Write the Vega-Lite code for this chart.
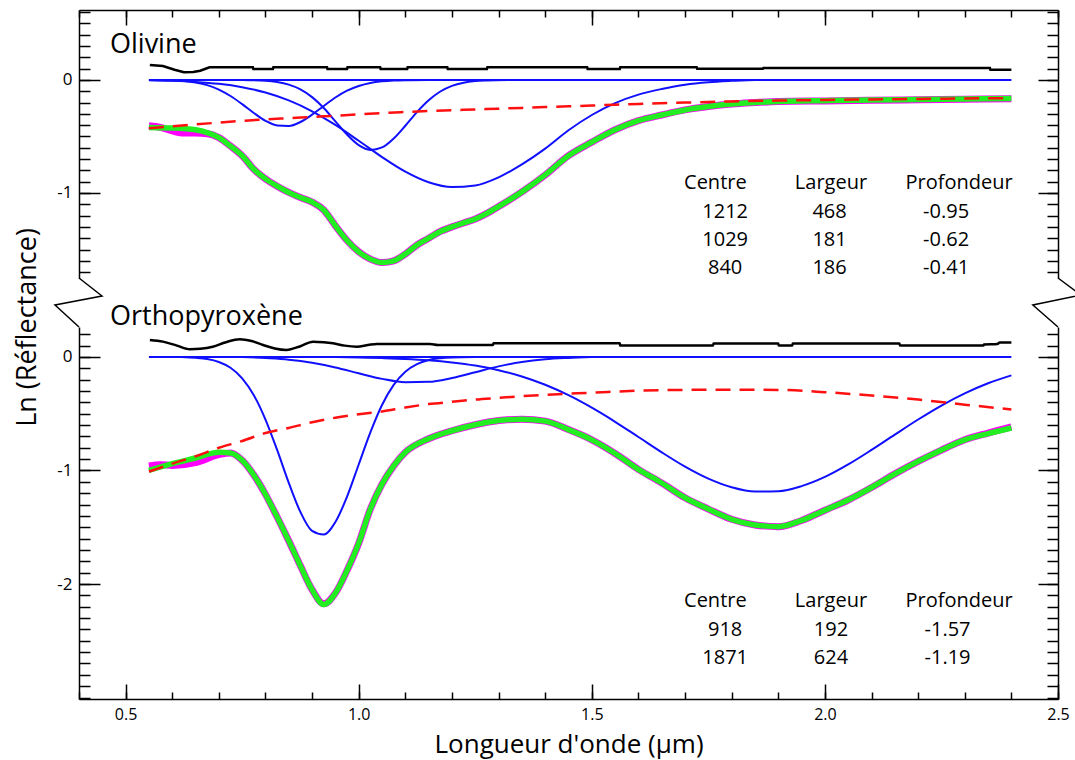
{
  "$schema": "https://vega.github.io/schema/vega-lite/v6.json",
  "background": "white",
  "padding": {"left": 13, "top": 9, "right": 0, "bottom": 10},
  "bounds": "flush",
  "spacing": 49,
  "config": {
    "view": {"stroke": null},
    "font": "Open Sans",
    "axis": {"grid": false, "domainColor": "black", "tickColor": "black", "labelColor": "black", "titleColor": "black", "domainWidth": 1.5, "tickWidth": 1.5, "labelFont": "Open Sans", "titleFont": "Open Sans", "titleFontWeight": "normal", "labelOverlap": false, "labelFlush": false, "labelBound": false}
  },
  "datasets": {
    "ol": [
      {"x":0.552,"y":0.133,"s":"res"},{"x":0.58,"y":0.124,"s":"res"},{"x":0.605,"y":0.09,"s":"res"},{"x":0.625,"y":0.068,"s":"res"},{"x":0.645,"y":0.07,"s":"res"},{"x":0.66,"y":0.082,"s":"res"},{"x":0.68,"y":0.112,"s":"res"},{"x":0.773,"y":0.112,"s":"res"},{"x":0.774,"y":0.098,"s":"res"},{"x":0.816,"y":0.098,"s":"res"},{"x":0.817,"y":0.112,"s":"res"},{"x":0.932,"y":0.112,"s":"res"},{"x":0.933,"y":0.098,"s":"res"},{"x":0.975,"y":0.098,"s":"res"},{"x":0.976,"y":0.112,"s":"res"},{"x":1.046,"y":0.112,"s":"res"},{"x":1.047,"y":0.098,"s":"res"},{"x":1.104,"y":0.098,"s":"res"},{"x":1.105,"y":0.112,"s":"res"},{"x":1.19,"y":0.112,"s":"res"},{"x":1.191,"y":0.098,"s":"res"},{"x":1.275,"y":0.098,"s":"res"},{"x":1.276,"y":0.112,"s":"res"},{"x":1.49,"y":0.112,"s":"res"},{"x":1.491,"y":0.098,"s":"res"},{"x":1.56,"y":0.098,"s":"res"},{"x":1.561,"y":0.112,"s":"res"},{"x":1.725,"y":0.112,"s":"res"},{"x":1.726,"y":0.1,"s":"res"},{"x":1.867,"y":0.1,"s":"res"},{"x":1.868,"y":0.105,"s":"res"},{"x":2.354,"y":0.105,"s":"res"},{"x":2.355,"y":0.09,"s":"res"},{"x":2.4,"y":0.09,"s":"res"},
      {"x":0.55,"y":0,"s":"base"},{"x":2.4,"y":0,"s":"base"},
      {"x":0.55,"y":0,"s":"g1"},{"x":0.6,"y":-0.004,"s":"g1"},{"x":0.625,"y":-0.01,"s":"g1"},{"x":0.65,"y":-0.023,"s":"g1"},{"x":0.675,"y":-0.046,"s":"g1"},{"x":0.7,"y":-0.085,"s":"g1"},{"x":0.725,"y":-0.142,"s":"g1"},{"x":0.75,"y":-0.214,"s":"g1"},{"x":0.775,"y":-0.292,"s":"g1"},{"x":0.8,"y":-0.361,"s":"g1"},{"x":0.825,"y":-0.403,"s":"g1"},{"x":0.85,"y":-0.407,"s":"g1"},{"x":0.875,"y":-0.372,"s":"g1"},{"x":0.9,"y":-0.307,"s":"g1"},{"x":0.925,"y":-0.23,"s":"g1"},{"x":0.95,"y":-0.155,"s":"g1"},{"x":0.975,"y":-0.095,"s":"g1"},{"x":1.0,"y":-0.053,"s":"g1"},{"x":1.025,"y":-0.026,"s":"g1"},{"x":1.05,"y":-0.012,"s":"g1"},{"x":1.075,"y":-0.005,"s":"g1"},{"x":1.1,"y":-0.002,"s":"g1"},{"x":1.15,"y":0,"s":"g1"},
      {"x":0.75,"y":0,"s":"g2"},{"x":0.8,"y":-0.007,"s":"g2"},{"x":0.825,"y":-0.018,"s":"g2"},{"x":0.85,"y":-0.041,"s":"g2"},{"x":0.875,"y":-0.083,"s":"g2"},{"x":0.9,"y":-0.152,"s":"g2"},{"x":0.925,"y":-0.248,"s":"g2"},{"x":0.95,"y":-0.366,"s":"g2"},{"x":0.975,"y":-0.484,"s":"g2"},{"x":1.0,"y":-0.577,"s":"g2"},{"x":1.025,"y":-0.619,"s":"g2"},{"x":1.05,"y":-0.597,"s":"g2"},{"x":1.075,"y":-0.518,"s":"g2"},{"x":1.1,"y":-0.405,"s":"g2"},{"x":1.125,"y":-0.284,"s":"g2"},{"x":1.15,"y":-0.18,"s":"g2"},{"x":1.175,"y":-0.102,"s":"g2"},{"x":1.2,"y":-0.052,"s":"g2"},{"x":1.225,"y":-0.024,"s":"g2"},{"x":1.25,"y":-0.01,"s":"g2"},{"x":1.275,"y":-0.004,"s":"g2"},{"x":1.32,"y":0,"s":"g2"},
      {"x":0.55,"y":-0.003,"s":"g3"},{"x":0.6,"y":-0.008,"s":"g3"},{"x":0.65,"y":-0.017,"s":"g3"},{"x":0.7,"y":-0.034,"s":"g3"},{"x":0.75,"y":-0.064,"s":"g3"},{"x":0.8,"y":-0.111,"s":"g3"},{"x":0.85,"y":-0.181,"s":"g3"},{"x":0.9,"y":-0.277,"s":"g3"},{"x":0.95,"y":-0.398,"s":"g3"},{"x":1.0,"y":-0.538,"s":"g3"},{"x":1.05,"y":-0.682,"s":"g3"},{"x":1.1,"y":-0.811,"s":"g3"},{"x":1.15,"y":-0.905,"s":"g3"},{"x":1.2,"y":-0.948,"s":"g3"},{"x":1.25,"y":-0.933,"s":"g3"},{"x":1.3,"y":-0.861,"s":"g3"},{"x":1.35,"y":-0.747,"s":"g3"},{"x":1.4,"y":-0.607,"s":"g3"},{"x":1.45,"y":-0.445,"s":"g3"},{"x":1.5,"y":-0.31,"s":"g3"},{"x":1.55,"y":-0.205,"s":"g3"},{"x":1.6,"y":-0.13,"s":"g3"},{"x":1.65,"y":-0.08,"s":"g3"},{"x":1.7,"y":-0.042,"s":"g3"},{"x":1.75,"y":-0.02,"s":"g3"},{"x":1.8,"y":-0.008,"s":"g3"},{"x":1.85,"y":0,"s":"g3"},
      {"x":0.55,"y":-0.428,"s":"cont"},{"x":0.6,"y":-0.41,"s":"cont"},{"x":0.65,"y":-0.393,"s":"cont"},{"x":0.7,"y":-0.377,"s":"cont"},{"x":0.75,"y":-0.362,"s":"cont"},{"x":0.8,"y":-0.349,"s":"cont"},{"x":0.85,"y":-0.338,"s":"cont"},{"x":0.9,"y":-0.327,"s":"cont"},{"x":0.95,"y":-0.316,"s":"cont"},{"x":1.0,"y":-0.305,"s":"cont"},{"x":1.05,"y":-0.293,"s":"cont"},{"x":1.1,"y":-0.283,"s":"cont"},{"x":1.15,"y":-0.274,"s":"cont"},{"x":1.2,"y":-0.267,"s":"cont"},{"x":1.25,"y":-0.261,"s":"cont"},{"x":1.3,"y":-0.254,"s":"cont"},{"x":1.35,"y":-0.247,"s":"cont"},{"x":1.4,"y":-0.24,"s":"cont"},{"x":1.45,"y":-0.233,"s":"cont"},{"x":1.5,"y":-0.226,"s":"cont"},{"x":1.55,"y":-0.219,"s":"cont"},{"x":1.6,"y":-0.212,"s":"cont"},{"x":1.7,"y":-0.2,"s":"cont"},{"x":1.8,"y":-0.19,"s":"cont"},{"x":1.9,"y":-0.182,"s":"cont"},{"x":2.0,"y":-0.177,"s":"cont"},{"x":2.1,"y":-0.172,"s":"cont"},{"x":2.2,"y":-0.168,"s":"cont"},{"x":2.3,"y":-0.164,"s":"cont"},{"x":2.4,"y":-0.16,"s":"cont"},
      {"x":0.55,"y":-0.42,"s":"fit"},{"x":0.6,"y":-0.425,"s":"fit"},{"x":0.625,"y":-0.43,"s":"fit"},{"x":0.65,"y":-0.44,"s":"fit"},{"x":0.675,"y":-0.465,"s":"fit"},{"x":0.7,"y":-0.51,"s":"fit"},{"x":0.725,"y":-0.585,"s":"fit"},{"x":0.75,"y":-0.67,"s":"fit"},{"x":0.775,"y":-0.79,"s":"fit"},{"x":0.8,"y":-0.875,"s":"fit"},{"x":0.825,"y":-0.94,"s":"fit"},{"x":0.85,"y":-0.995,"s":"fit"},{"x":0.875,"y":-1.04,"s":"fit"},{"x":0.9,"y":-1.08,"s":"fit"},{"x":0.925,"y":-1.15,"s":"fit"},{"x":0.95,"y":-1.29,"s":"fit"},{"x":0.975,"y":-1.42,"s":"fit"},{"x":1.0,"y":-1.52,"s":"fit"},{"x":1.025,"y":-1.585,"s":"fit"},{"x":1.05,"y":-1.615,"s":"fit"},{"x":1.075,"y":-1.6,"s":"fit"},{"x":1.1,"y":-1.54,"s":"fit"},{"x":1.125,"y":-1.46,"s":"fit"},{"x":1.15,"y":-1.4,"s":"fit"},{"x":1.175,"y":-1.34,"s":"fit"},{"x":1.2,"y":-1.3,"s":"fit"},{"x":1.225,"y":-1.265,"s":"fit"},{"x":1.25,"y":-1.23,"s":"fit"},{"x":1.275,"y":-1.18,"s":"fit"},{"x":1.3,"y":-1.12,"s":"fit"},{"x":1.35,"y":-0.99,"s":"fit"},{"x":1.4,"y":-0.84,"s":"fit"},{"x":1.45,"y":-0.67,"s":"fit"},{"x":1.5,"y":-0.55,"s":"fit"},{"x":1.55,"y":-0.44,"s":"fit"},{"x":1.6,"y":-0.36,"s":"fit"},{"x":1.65,"y":-0.31,"s":"fit"},{"x":1.7,"y":-0.265,"s":"fit"},{"x":1.75,"y":-0.235,"s":"fit"},{"x":1.8,"y":-0.213,"s":"fit"},{"x":1.85,"y":-0.2,"s":"fit"},{"x":1.9,"y":-0.19,"s":"fit"},{"x":2.0,"y":-0.183,"s":"fit"},{"x":2.1,"y":-0.178,"s":"fit"},{"x":2.2,"y":-0.172,"s":"fit"},{"x":2.3,"y":-0.168,"s":"fit"},{"x":2.4,"y":-0.163,"s":"fit"},
      {"x":0.55,"y":-0.405,"s":"meas"},{"x":0.575,"y":-0.42,"s":"meas"},{"x":0.6,"y":-0.45,"s":"meas"},{"x":0.625,"y":-0.47,"s":"meas"},{"x":0.65,"y":-0.47,"s":"meas"},{"x":0.675,"y":-0.475,"s":"meas"},{"x":0.7,"y":-0.51,"s":"meas"},{"x":0.725,"y":-0.585,"s":"meas"},{"x":0.75,"y":-0.67,"s":"meas"},{"x":0.775,"y":-0.79,"s":"meas"},{"x":0.8,"y":-0.875,"s":"meas"},{"x":0.825,"y":-0.94,"s":"meas"},{"x":0.85,"y":-0.995,"s":"meas"},{"x":0.875,"y":-1.04,"s":"meas"},{"x":0.9,"y":-1.08,"s":"meas"},{"x":0.925,"y":-1.15,"s":"meas"},{"x":0.95,"y":-1.29,"s":"meas"},{"x":0.975,"y":-1.42,"s":"meas"},{"x":1.0,"y":-1.52,"s":"meas"},{"x":1.025,"y":-1.585,"s":"meas"},{"x":1.05,"y":-1.615,"s":"meas"},{"x":1.075,"y":-1.6,"s":"meas"},{"x":1.1,"y":-1.54,"s":"meas"},{"x":1.125,"y":-1.46,"s":"meas"},{"x":1.15,"y":-1.4,"s":"meas"},{"x":1.175,"y":-1.34,"s":"meas"},{"x":1.2,"y":-1.3,"s":"meas"},{"x":1.225,"y":-1.265,"s":"meas"},{"x":1.25,"y":-1.23,"s":"meas"},{"x":1.275,"y":-1.18,"s":"meas"},{"x":1.3,"y":-1.12,"s":"meas"},{"x":1.35,"y":-0.99,"s":"meas"},{"x":1.4,"y":-0.84,"s":"meas"},{"x":1.45,"y":-0.67,"s":"meas"},{"x":1.5,"y":-0.55,"s":"meas"},{"x":1.55,"y":-0.44,"s":"meas"},{"x":1.6,"y":-0.36,"s":"meas"},{"x":1.65,"y":-0.31,"s":"meas"},{"x":1.7,"y":-0.265,"s":"meas"},{"x":1.75,"y":-0.235,"s":"meas"},{"x":1.8,"y":-0.213,"s":"meas"},{"x":1.85,"y":-0.2,"s":"meas"},{"x":1.9,"y":-0.19,"s":"meas"},{"x":2.0,"y":-0.185,"s":"meas"},{"x":2.1,"y":-0.18,"s":"meas"},{"x":2.2,"y":-0.175,"s":"meas"},{"x":2.3,"y":-0.171,"s":"meas"},{"x":2.4,"y":-0.166,"s":"meas"}
    ],
    "opx": [
      {"x":0.552,"y":0.15,"s":"res"},{"x":0.58,"y":0.135,"s":"res"},{"x":0.61,"y":0.1,"s":"res"},{"x":0.638,"y":0.068,"s":"res"},{"x":0.66,"y":0.072,"s":"res"},{"x":0.687,"y":0.09,"s":"res"},{"x":0.715,"y":0.13,"s":"res"},{"x":0.745,"y":0.156,"s":"res"},{"x":0.77,"y":0.14,"s":"res"},{"x":0.795,"y":0.106,"s":"res"},{"x":0.82,"y":0.075,"s":"res"},{"x":0.845,"y":0.062,"s":"res"},{"x":0.875,"y":0.095,"s":"res"},{"x":0.902,"y":0.135,"s":"res"},{"x":0.925,"y":0.13,"s":"res"},{"x":0.945,"y":0.12,"s":"res"},{"x":0.97,"y":0.1,"s":"res"},{"x":0.996,"y":0.091,"s":"res"},{"x":1.02,"y":0.105,"s":"res"},{"x":1.039,"y":0.115,"s":"res"},{"x":1.153,"y":0.115,"s":"res"},{"x":1.17,"y":0.106,"s":"res"},{"x":1.288,"y":0.106,"s":"res"},{"x":1.289,"y":0.12,"s":"res"},{"x":1.56,"y":0.12,"s":"res"},{"x":1.561,"y":0.1,"s":"res"},{"x":1.76,"y":0.1,"s":"res"},{"x":1.761,"y":0.118,"s":"res"},{"x":1.9,"y":0.118,"s":"res"},{"x":1.901,"y":0.1,"s":"res"},{"x":1.93,"y":0.1,"s":"res"},{"x":1.931,"y":0.118,"s":"res"},{"x":2.16,"y":0.118,"s":"res"},{"x":2.161,"y":0.1,"s":"res"},{"x":2.34,"y":0.1,"s":"res"},{"x":2.341,"y":0.11,"s":"res"},{"x":2.37,"y":0.115,"s":"res"},{"x":2.375,"y":0.127,"s":"res"},{"x":2.4,"y":0.127,"s":"res"},
      {"x":0.55,"y":0,"s":"base"},{"x":2.4,"y":0,"s":"base"},
      {"x":0.62,"y":0,"s":"g4"},{"x":0.65,"y":-0.007,"s":"g4"},{"x":0.675,"y":-0.018,"s":"g4"},{"x":0.7,"y":-0.044,"s":"g4"},{"x":0.725,"y":-0.095,"s":"g4"},{"x":0.75,"y":-0.188,"s":"g4"},{"x":0.775,"y":-0.337,"s":"g4"},{"x":0.8,"y":-0.551,"s":"g4"},{"x":0.825,"y":-0.819,"s":"g4"},{"x":0.85,"y":-1.109,"s":"g4"},{"x":0.875,"y":-1.366,"s":"g4"},{"x":0.9,"y":-1.532,"s":"g4"},{"x":0.925,"y":-1.564,"s":"g4"},{"x":0.95,"y":-1.454,"s":"g4"},{"x":0.975,"y":-1.23,"s":"g4"},{"x":1.0,"y":-0.947,"s":"g4"},{"x":1.025,"y":-0.664,"s":"g4"},{"x":1.05,"y":-0.423,"s":"g4"},{"x":1.075,"y":-0.246,"s":"g4"},{"x":1.1,"y":-0.13,"s":"g4"},{"x":1.125,"y":-0.063,"s":"g4"},{"x":1.15,"y":-0.027,"s":"g4"},{"x":1.175,"y":-0.011,"s":"g4"},{"x":1.2,"y":-0.004,"s":"g4"},{"x":1.25,"y":0,"s":"g4"},
      {"x":0.95,"y":0,"s":"g5"},{"x":1.0,"y":-0.005,"s":"g5"},{"x":1.05,"y":-0.01,"s":"g5"},{"x":1.1,"y":-0.017,"s":"g5"},{"x":1.15,"y":-0.029,"s":"g5"},{"x":1.2,"y":-0.048,"s":"g5"},{"x":1.25,"y":-0.076,"s":"g5"},{"x":1.3,"y":-0.117,"s":"g5"},{"x":1.35,"y":-0.172,"s":"g5"},{"x":1.4,"y":-0.245,"s":"g5"},{"x":1.45,"y":-0.337,"s":"g5"},{"x":1.5,"y":-0.447,"s":"g5"},{"x":1.55,"y":-0.571,"s":"g5"},{"x":1.6,"y":-0.705,"s":"g5"},{"x":1.65,"y":-0.84,"s":"g5"},{"x":1.7,"y":-0.966,"s":"g5"},{"x":1.75,"y":-1.072,"s":"g5"},{"x":1.8,"y":-1.148,"s":"g5"},{"x":1.85,"y":-1.186,"s":"g5"},{"x":1.9,"y":-1.183,"s":"g5"},{"x":1.95,"y":-1.138,"s":"g5"},{"x":2.0,"y":-1.057,"s":"g5"},{"x":2.05,"y":-0.947,"s":"g5"},{"x":2.1,"y":-0.819,"s":"g5"},{"x":2.15,"y":-0.684,"s":"g5"},{"x":2.2,"y":-0.551,"s":"g5"},{"x":2.25,"y":-0.428,"s":"g5"},{"x":2.3,"y":-0.321,"s":"g5"},{"x":2.35,"y":-0.232,"s":"g5"},{"x":2.4,"y":-0.162,"s":"g5"},
      {"x":0.75,"y":0,"s":"g6"},{"x":0.8,"y":-0.01,"s":"g6"},{"x":0.85,"y":-0.024,"s":"g6"},{"x":0.9,"y":-0.051,"s":"g6"},{"x":0.95,"y":-0.092,"s":"g6"},{"x":1.0,"y":-0.144,"s":"g6"},{"x":1.05,"y":-0.193,"s":"g6"},{"x":1.1,"y":-0.222,"s":"g6"},{"x":1.15,"y":-0.219,"s":"g6"},{"x":1.2,"y":-0.185,"s":"g6"},{"x":1.25,"y":-0.134,"s":"g6"},{"x":1.3,"y":-0.083,"s":"g6"},{"x":1.35,"y":-0.044,"s":"g6"},{"x":1.4,"y":-0.02,"s":"g6"},{"x":1.45,"y":-0.008,"s":"g6"},{"x":1.5,"y":0,"s":"g6"},
      {"x":0.55,"y":-1.01,"s":"cont"},{"x":0.6,"y":-0.94,"s":"cont"},{"x":0.65,"y":-0.875,"s":"cont"},{"x":0.7,"y":-0.8,"s":"cont"},{"x":0.75,"y":-0.74,"s":"cont"},{"x":0.8,"y":-0.67,"s":"cont"},{"x":0.85,"y":-0.625,"s":"cont"},{"x":0.9,"y":-0.575,"s":"cont"},{"x":0.95,"y":-0.535,"s":"cont"},{"x":1.0,"y":-0.505,"s":"cont"},{"x":1.05,"y":-0.48,"s":"cont"},{"x":1.1,"y":-0.445,"s":"cont"},{"x":1.15,"y":-0.415,"s":"cont"},{"x":1.2,"y":-0.395,"s":"cont"},{"x":1.25,"y":-0.375,"s":"cont"},{"x":1.3,"y":-0.36,"s":"cont"},{"x":1.35,"y":-0.345,"s":"cont"},{"x":1.4,"y":-0.333,"s":"cont"},{"x":1.5,"y":-0.315,"s":"cont"},{"x":1.6,"y":-0.297,"s":"cont"},{"x":1.7,"y":-0.29,"s":"cont"},{"x":1.8,"y":-0.288,"s":"cont"},{"x":1.9,"y":-0.29,"s":"cont"},{"x":2.0,"y":-0.31,"s":"cont"},{"x":2.1,"y":-0.34,"s":"cont"},{"x":2.2,"y":-0.375,"s":"cont"},{"x":2.3,"y":-0.42,"s":"cont"},{"x":2.4,"y":-0.462,"s":"cont"},
      {"x":0.55,"y":-1.0,"s":"fit"},{"x":0.6,"y":-0.94,"s":"fit"},{"x":0.65,"y":-0.89,"s":"fit"},{"x":0.7,"y":-0.84,"s":"fit"},{"x":0.725,"y":-0.845,"s":"fit"},{"x":0.75,"y":-0.91,"s":"fit"},{"x":0.775,"y":-1.04,"s":"fit"},{"x":0.8,"y":-1.21,"s":"fit"},{"x":0.825,"y":-1.41,"s":"fit"},{"x":0.85,"y":-1.62,"s":"fit"},{"x":0.875,"y":-1.84,"s":"fit"},{"x":0.9,"y":-2.05,"s":"fit"},{"x":0.925,"y":-2.18,"s":"fit"},{"x":0.95,"y":-2.08,"s":"fit"},{"x":0.975,"y":-1.88,"s":"fit"},{"x":1.0,"y":-1.64,"s":"fit"},{"x":1.025,"y":-1.34,"s":"fit"},{"x":1.05,"y":-1.12,"s":"fit"},{"x":1.075,"y":-0.96,"s":"fit"},{"x":1.1,"y":-0.84,"s":"fit"},{"x":1.15,"y":-0.72,"s":"fit"},{"x":1.2,"y":-0.65,"s":"fit"},{"x":1.25,"y":-0.597,"s":"fit"},{"x":1.3,"y":-0.56,"s":"fit"},{"x":1.35,"y":-0.548,"s":"fit"},{"x":1.4,"y":-0.565,"s":"fit"},{"x":1.45,"y":-0.64,"s":"fit"},{"x":1.5,"y":-0.73,"s":"fit"},{"x":1.55,"y":-0.85,"s":"fit"},{"x":1.6,"y":-0.99,"s":"fit"},{"x":1.65,"y":-1.11,"s":"fit"},{"x":1.7,"y":-1.24,"s":"fit"},{"x":1.75,"y":-1.34,"s":"fit"},{"x":1.8,"y":-1.43,"s":"fit"},{"x":1.85,"y":-1.48,"s":"fit"},{"x":1.9,"y":-1.495,"s":"fit"},{"x":1.95,"y":-1.44,"s":"fit"},{"x":2.0,"y":-1.35,"s":"fit"},{"x":2.05,"y":-1.26,"s":"fit"},{"x":2.1,"y":-1.15,"s":"fit"},{"x":2.15,"y":-1.03,"s":"fit"},{"x":2.2,"y":-0.92,"s":"fit"},{"x":2.25,"y":-0.82,"s":"fit"},{"x":2.3,"y":-0.73,"s":"fit"},{"x":2.35,"y":-0.675,"s":"fit"},{"x":2.4,"y":-0.625,"s":"fit"},
      {"x":0.55,"y":-0.96,"s":"meas"},{"x":0.575,"y":-0.95,"s":"meas"},{"x":0.6,"y":-0.955,"s":"meas"},{"x":0.65,"y":-0.93,"s":"meas"},{"x":0.7,"y":-0.86,"s":"meas"},{"x":0.725,"y":-0.845,"s":"meas"},{"x":0.75,"y":-0.91,"s":"meas"},{"x":0.775,"y":-1.04,"s":"meas"},{"x":0.8,"y":-1.21,"s":"meas"},{"x":0.825,"y":-1.41,"s":"meas"},{"x":0.85,"y":-1.62,"s":"meas"},{"x":0.875,"y":-1.84,"s":"meas"},{"x":0.9,"y":-2.05,"s":"meas"},{"x":0.925,"y":-2.175,"s":"meas"},{"x":0.95,"y":-2.08,"s":"meas"},{"x":0.975,"y":-1.88,"s":"meas"},{"x":1.0,"y":-1.64,"s":"meas"},{"x":1.025,"y":-1.34,"s":"meas"},{"x":1.05,"y":-1.12,"s":"meas"},{"x":1.075,"y":-0.96,"s":"meas"},{"x":1.1,"y":-0.84,"s":"meas"},{"x":1.15,"y":-0.72,"s":"meas"},{"x":1.2,"y":-0.65,"s":"meas"},{"x":1.25,"y":-0.597,"s":"meas"},{"x":1.3,"y":-0.56,"s":"meas"},{"x":1.35,"y":-0.548,"s":"meas"},{"x":1.4,"y":-0.565,"s":"meas"},{"x":1.45,"y":-0.64,"s":"meas"},{"x":1.5,"y":-0.73,"s":"meas"},{"x":1.55,"y":-0.85,"s":"meas"},{"x":1.6,"y":-0.99,"s":"meas"},{"x":1.65,"y":-1.11,"s":"meas"},{"x":1.7,"y":-1.24,"s":"meas"},{"x":1.75,"y":-1.34,"s":"meas"},{"x":1.8,"y":-1.43,"s":"meas"},{"x":1.85,"y":-1.48,"s":"meas"},{"x":1.9,"y":-1.495,"s":"meas"},{"x":1.95,"y":-1.44,"s":"meas"},{"x":2.0,"y":-1.35,"s":"meas"},{"x":2.05,"y":-1.26,"s":"meas"},{"x":2.1,"y":-1.15,"s":"meas"},{"x":2.15,"y":-1.03,"s":"meas"},{"x":2.2,"y":-0.92,"s":"meas"},{"x":2.25,"y":-0.82,"s":"meas"},{"x":2.3,"y":-0.73,"s":"meas"},{"x":2.35,"y":-0.67,"s":"meas"},{"x":2.4,"y":-0.615,"s":"meas"}
    ],
    "olt": [
      {"x":0.4665,"y":0.31,"t":"Olivine","k":"name"},
      {"x":1.765,"y":-0.912,"t":"Centre","k":"tab"},{"x":2.013,"y":-0.912,"t":"Largeur","k":"tab"},{"x":2.288,"y":-0.912,"t":"Profondeur","k":"tab"},
      {"x":1.786,"y":-1.168,"t":"1212","k":"tab"},{"x":2.01,"y":-1.168,"t":"468","k":"tab"},{"x":2.26,"y":-1.168,"t":"-0.95","k":"tab"},
      {"x":1.786,"y":-1.416,"t":"1029","k":"tab"},{"x":2.01,"y":-1.416,"t":"181","k":"tab"},{"x":2.26,"y":-1.416,"t":"-0.62","k":"tab"},
      {"x":1.786,"y":-1.664,"t":"840","k":"tab"},{"x":2.01,"y":-1.664,"t":"186","k":"tab"},{"x":2.26,"y":-1.664,"t":"-0.41","k":"tab"}
    ],
    "opxt": [
      {"x":0.4665,"y":0.352,"t":"Orthopyroxène","k":"name"},
      {"x":1.765,"y":-2.15,"t":"Centre","k":"tab"},{"x":2.013,"y":-2.15,"t":"Largeur","k":"tab"},{"x":2.288,"y":-2.15,"t":"Profondeur","k":"tab"},
      {"x":1.786,"y":-2.405,"t":"918","k":"tab"},{"x":2.013,"y":-2.405,"t":"192","k":"tab"},{"x":2.263,"y":-2.405,"t":"-1.57","k":"tab"},
      {"x":1.786,"y":-2.652,"t":"1871","k":"tab"},{"x":2.013,"y":-2.652,"t":"624","k":"tab"},{"x":2.263,"y":-2.652,"t":"-1.19","k":"tab"}
    ],
    "zz": [
      {"x":0.4,"y":-1.752,"g":"L","i":1},{"x":0.4493,"y":-1.911,"g":"L","i":2},{"x":0.3485,"y":-1.991,"g":"L","i":3},{"x":0.4,"y":-2.186,"g":"L","i":4},
      {"x":2.5,"y":-1.752,"g":"R","i":1},{"x":2.549,"y":-1.902,"g":"R","i":2},{"x":2.446,"y":-1.991,"g":"R","i":3},{"x":2.5,"y":-2.186,"g":"R","i":4}
    ]
  },
  "vconcat": [
    {
      "width": 979,
      "height": 268,
      "data": {"name": "ol"},
      "resolve": {"axis": {"x": "independent", "y": "independent"}},
      "layer": [
        {
          "transform": [{"filter": "datum.s == 'meas'"}],
          "mark": {"type": "line", "color": "#ff00ff", "strokeWidth": 7, "interpolate": "monotone"},
          "encoding": {
            "x": {"field": "x", "type": "quantitative", "scale": {"domain": [0.4, 2.5], "nice": false, "zero": false}, "axis": {"orient": "top", "values": [0.5, 1, 1.5, 2, 2.5], "tickSize": -15, "labels": false, "title": null}},
            "y": {"field": "y", "type": "quantitative", "scale": {"domain": [-1.752, 0.619], "nice": false, "zero": false}, "axis": {"orient": "left", "values": [-1, 0], "tickSize": -21, "labelPadding": 28, "labelFontSize": 17, "labelExpr": "'' + datum.value", "title": null}}
          }
        },
        {
          "transform": [{"filter": "datum.s == 'fit'"}],
          "mark": {"type": "line", "color": "#22ee22", "strokeWidth": 5.5, "interpolate": "monotone"},
          "encoding": {
            "x": {"field": "x", "type": "quantitative", "scale": {"domain": [0.4, 2.5], "nice": false, "zero": false}, "axis": {"orient": "top", "values": [0.4,0.5,0.6,0.7,0.8,0.9,1.0,1.1,1.2,1.3,1.4,1.5,1.6,1.7,1.8,1.9,2.0,2.1,2.2,2.3,2.4,2.5], "tickSize": -7, "labels": false, "domain": false, "title": null}},
            "y": {"field": "y", "type": "quantitative", "scale": {"domain": [-1.752, 0.619], "nice": false, "zero": false}, "axis": {"orient": "left", "values": [-1.7,-1.6,-1.5,-1.4,-1.3,-1.2,-1.1,-1.0,-0.9,-0.8,-0.7,-0.6,-0.5,-0.4,-0.3,-0.2,-0.1,0,0.1,0.2,0.3,0.4,0.5,0.6], "tickSize": -11, "labels": false, "domain": false, "title": null}}
          }
        },
        {
          "transform": [{"filter": "indexof(['base','g1','g2','g3'], datum.s) >= 0"}],
          "mark": {"type": "line", "color": "#1010ff", "strokeWidth": 2, "interpolate": "monotone"},
          "encoding": {
            "x": {"field": "x", "type": "quantitative", "scale": {"domain": [0.4, 2.5], "nice": false, "zero": false}, "axis": null},
            "y": {"field": "y", "type": "quantitative", "scale": {"domain": [-1.752, 0.619], "nice": false, "zero": false}, "axis": {"orient": "right", "values": [-1, 0], "tickSize": -20, "labels": false, "title": null}},
            "detail": {"field": "s"}
          }
        },
        {
          "transform": [{"filter": "datum.s == 'cont'"}],
          "mark": {"type": "line", "color": "#ff1010", "strokeWidth": 2.5, "strokeDash": [15, 9], "interpolate": "monotone"},
          "encoding": {
            "x": {"field": "x", "type": "quantitative", "scale": {"domain": [0.4, 2.5], "nice": false, "zero": false}, "axis": null},
            "y": {"field": "y", "type": "quantitative", "scale": {"domain": [-1.752, 0.619], "nice": false, "zero": false}, "axis": {"orient": "right", "values": [-1.7,-1.6,-1.5,-1.4,-1.3,-1.2,-1.1,-1.0,-0.9,-0.8,-0.7,-0.6,-0.5,-0.4,-0.3,-0.2,-0.1,0,0.1,0.2,0.3,0.4,0.5,0.6], "tickSize": -11, "labels": false, "domain": false, "title": null}}
          }
        },
        {
          "transform": [{"filter": "datum.s == 'res'"}],
          "mark": {"type": "line", "color": "black", "strokeWidth": 2.5},
          "encoding": {
            "x": {"field": "x", "type": "quantitative", "scale": {"domain": [0.4, 2.5], "nice": false, "zero": false}, "axis": null},
            "y": {"field": "y", "type": "quantitative", "scale": {"domain": [-1.752, 0.619], "nice": false, "zero": false}, "axis": null}
          }
        },
        {
          "data": {"name": "olt"},
          "transform": [{"filter": "datum.k == 'name'"}],
          "mark": {"type": "text", "align": "left", "baseline": "middle", "fontSize": 27, "font": "Open Sans", "color": "black"},
          "encoding": {
            "x": {"field": "x", "type": "quantitative", "scale": {"domain": [0.4, 2.5], "nice": false, "zero": false}, "axis": null},
            "y": {"field": "y", "type": "quantitative", "scale": {"domain": [-1.752, 0.619], "nice": false, "zero": false}, "axis": null},
            "text": {"field": "t"}
          }
        },
        {
          "data": {"name": "olt"},
          "transform": [{"filter": "datum.k == 'tab'"}],
          "mark": {"type": "text", "align": "center", "baseline": "middle", "fontSize": 20, "font": "Open Sans", "color": "black"},
          "encoding": {
            "x": {"field": "x", "type": "quantitative", "scale": {"domain": [0.4, 2.5], "nice": false, "zero": false}, "axis": null},
            "y": {"field": "y", "type": "quantitative", "scale": {"domain": [-1.752, 0.619], "nice": false, "zero": false}, "axis": null},
            "text": {"field": "t"}
          }
        },
        {
          "data": {"name": "zz"},
          "mark": {"type": "line", "color": "black", "strokeWidth": 1.5, "clip": false},
          "encoding": {
            "x": {"field": "x", "type": "quantitative", "scale": {"domain": [0.4, 2.5], "nice": false, "zero": false}, "axis": null},
            "y": {"field": "y", "type": "quantitative", "scale": {"domain": [-1.752, 0.619], "nice": false, "zero": false}, "axis": null},
            "detail": {"field": "g"},
            "order": {"field": "i"}
          }
        }
      ]
    },
    {
      "width": 979,
      "height": 372,
      "data": {"name": "opx"},
      "resolve": {"axis": {"x": "independent", "y": "independent"}},
      "layer": [
        {
          "transform": [{"filter": "datum.s == 'meas'"}],
          "mark": {"type": "line", "color": "#ff00ff", "strokeWidth": 7, "interpolate": "monotone"},
          "encoding": {
            "x": {"field": "x", "type": "quantitative", "scale": {"domain": [0.4, 2.5], "nice": false, "zero": false}, "axis": {"orient": "bottom", "values": [0.5, 1, 1.5, 2, 2.5], "tickSize": -15, "labelPadding": 22, "labelFontSize": 16, "format": ".1f", "title": "Longueur d'onde (µm)", "titleFontSize": 26, "titleBaseline": "alphabetic", "titleY": 53}},
            "y": {"field": "y", "type": "quantitative", "scale": {"domain": [-3.013, 0.264], "nice": false, "zero": false}, "axis": {"orient": "left", "values": [-2, -1, 0], "tickSize": -21, "labelPadding": 28, "labelFontSize": 17, "labelExpr": "'' + datum.value", "title": "Ln (Réflectance)", "titleFontSize": 27, "titleBaseline": "alphabetic", "titleX": -44, "titleY": 0, "titleAngle": -90, "titleAlign": "center"}}
          }
        },
        {
          "transform": [{"filter": "datum.s == 'fit'"}],
          "mark": {"type": "line", "color": "#22ee22", "strokeWidth": 5.5, "interpolate": "monotone"},
          "encoding": {
            "x": {"field": "x", "type": "quantitative", "scale": {"domain": [0.4, 2.5], "nice": false, "zero": false}, "axis": {"orient": "bottom", "values": [0.4,0.5,0.6,0.7,0.8,0.9,1.0,1.1,1.2,1.3,1.4,1.5,1.6,1.7,1.8,1.9,2.0,2.1,2.2,2.3,2.4,2.5], "tickSize": -7, "labels": false, "domain": false, "title": null}},
            "y": {"field": "y", "type": "quantitative", "scale": {"domain": [-3.013, 0.264], "nice": false, "zero": false}, "axis": {"orient": "left", "values": [-3.0,-2.9,-2.8,-2.7,-2.6,-2.5,-2.4,-2.3,-2.2,-2.1,-2.0,-1.9,-1.8,-1.7,-1.6,-1.5,-1.4,-1.3,-1.2,-1.1,-1.0,-0.9,-0.8,-0.7,-0.6,-0.5,-0.4,-0.3,-0.2,-0.1,0,0.1,0.2], "tickSize": -11, "labels": false, "domain": false, "title": null}}
          }
        },
        {
          "transform": [{"filter": "indexof(['base','g4','g5','g6'], datum.s) >= 0"}],
          "mark": {"type": "line", "color": "#1010ff", "strokeWidth": 2, "interpolate": "monotone"},
          "encoding": {
            "x": {"field": "x", "type": "quantitative", "scale": {"domain": [0.4, 2.5], "nice": false, "zero": false}, "axis": null},
            "y": {"field": "y", "type": "quantitative", "scale": {"domain": [-3.013, 0.264], "nice": false, "zero": false}, "axis": {"orient": "right", "values": [-2, -1, 0], "tickSize": -20, "labels": false, "title": null}},
            "detail": {"field": "s"}
          }
        },
        {
          "transform": [{"filter": "datum.s == 'cont'"}],
          "mark": {"type": "line", "color": "#ff1010", "strokeWidth": 2.5, "strokeDash": [15, 9], "interpolate": "monotone"},
          "encoding": {
            "x": {"field": "x", "type": "quantitative", "scale": {"domain": [0.4, 2.5], "nice": false, "zero": false}, "axis": null},
            "y": {"field": "y", "type": "quantitative", "scale": {"domain": [-3.013, 0.264], "nice": false, "zero": false}, "axis": {"orient": "right", "values": [-3.0,-2.9,-2.8,-2.7,-2.6,-2.5,-2.4,-2.3,-2.2,-2.1,-2.0,-1.9,-1.8,-1.7,-1.6,-1.5,-1.4,-1.3,-1.2,-1.1,-1.0,-0.9,-0.8,-0.7,-0.6,-0.5,-0.4,-0.3,-0.2,-0.1,0,0.1,0.2], "tickSize": -11, "labels": false, "domain": false, "title": null}}
          }
        },
        {
          "transform": [{"filter": "datum.s == 'res'"}],
          "mark": {"type": "line", "color": "black", "strokeWidth": 2.5, "interpolate": "monotone"},
          "encoding": {
            "x": {"field": "x", "type": "quantitative", "scale": {"domain": [0.4, 2.5], "nice": false, "zero": false}, "axis": null},
            "y": {"field": "y", "type": "quantitative", "scale": {"domain": [-3.013, 0.264], "nice": false, "zero": false}, "axis": null}
          }
        },
        {
          "data": {"name": "opxt"},
          "transform": [{"filter": "datum.k == 'name'"}],
          "mark": {"type": "text", "align": "left", "baseline": "middle", "fontSize": 27, "font": "Open Sans", "color": "black"},
          "encoding": {
            "x": {"field": "x", "type": "quantitative", "scale": {"domain": [0.4, 2.5], "nice": false, "zero": false}, "axis": null},
            "y": {"field": "y", "type": "quantitative", "scale": {"domain": [-3.013, 0.264], "nice": false, "zero": false}, "axis": null},
            "text": {"field": "t"}
          }
        },
        {
          "data": {"name": "opxt"},
          "transform": [{"filter": "datum.k == 'tab'"}],
          "mark": {"type": "text", "align": "center", "baseline": "middle", "fontSize": 20, "font": "Open Sans", "color": "black"},
          "encoding": {
            "x": {"field": "x", "type": "quantitative", "scale": {"domain": [0.4, 2.5], "nice": false, "zero": false}, "axis": null},
            "y": {"field": "y", "type": "quantitative", "scale": {"domain": [-3.013, 0.264], "nice": false, "zero": false}, "axis": null},
            "text": {"field": "t"}
          }
        }
      ]
    }
  ]
}
